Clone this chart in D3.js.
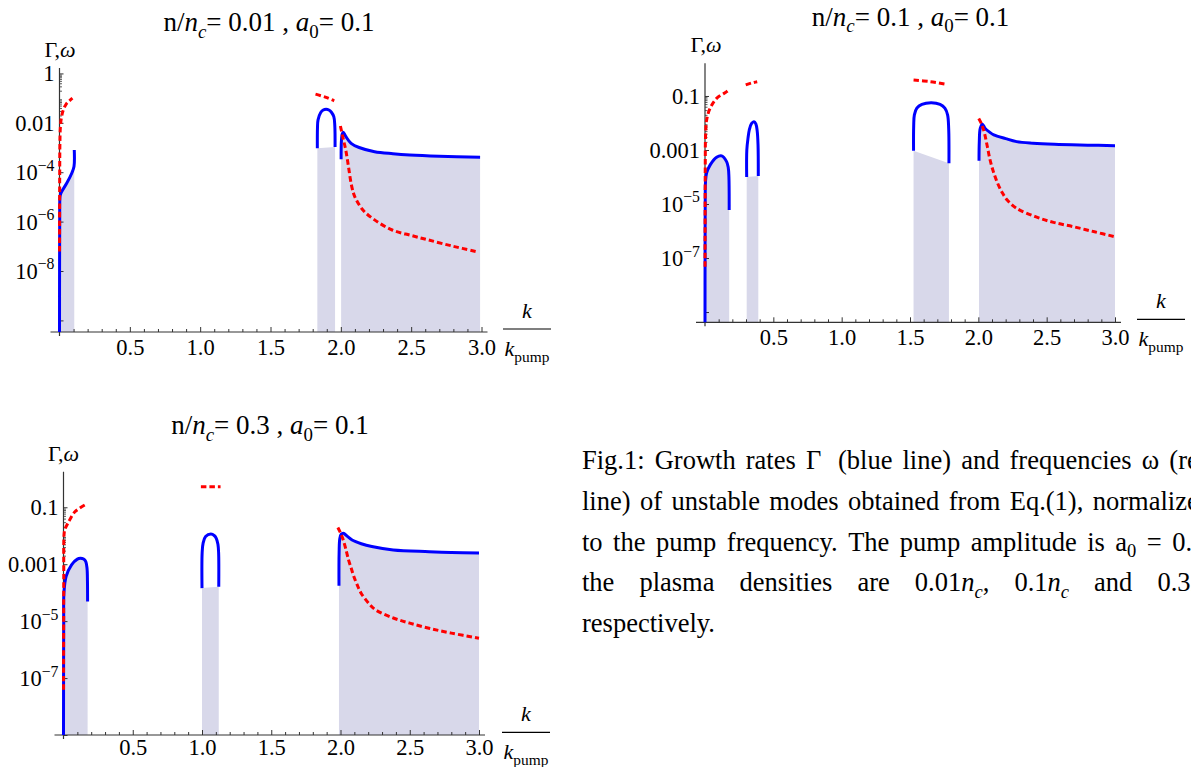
<!DOCTYPE html>
<html><head><meta charset="utf-8">
<script src="https://cdn.jsdelivr.net/npm/d3@7"></script>
<style>
body{margin:0;background:#fff;}
svg{display:block;font-family:"Liberation Serif","Times New Roman",serif;}
</style></head><body>
<script>
// ---------------- DATA ----------------
const kMajorTicks = [0.5, 1.0, 1.5, 2.0, 2.5, 3.0];
const kMajorLabels = ["0.5", "1.0", "1.5", "2.0", "2.5", "3.0"];
const kMinorTicks = d3.range(1, 30).map(i => i / 10).filter(v => Math.abs(v * 2 - Math.round(v * 2)) > 1e-9);

const densities = ["0.01", "0.1", "0.3"];
const pumpAmplitude = "0.1";

// y ticks (values) and labels per panel
const p1YTicks = [1, 1e-2, 1e-4, 1e-6, 1e-8, 1e-10];
const p1YLabels = ["1", "0.01", "10^{−4}", "10^{−6}", "10^{−8}", ""];
const p23YTicks = [1e-1, 1e-3, 1e-5, 1e-7, 1e-9];
const p23YLabels = ["0.1", "0.001", "10^{−5}", "10^{−7}", ""];

// Curves: [k/k_pump, log10(value)]
// Panel 1: n/nc = 0.01
const p1Gamma = [
  [[0,-10.47],[0.0005,-8],[0.0015,-6],[0.0035,-5.0],[0.008,-4.88],[0.016,-4.78],[0.051,-4.45],[0.087,-4.04],[0.103,-3.77],[0.105,-3.1]],
  [[1.833,-3.03],[1.834,-2.2],[1.838,-1.88],[1.857,-1.58],[1.875,-1.48],[1.895,-1.45],[1.915,-1.48],[1.933,-1.57],[1.95,-1.75],[1.957,-2.1],[1.959,-2.98]],
  [[2.002,-3.47],[2.004,-2.75],[2.01,-2.45],[2.017,-2.38],[2.035,-2.55],[2.073,-2.83],[2.13,-3.0],[2.24,-3.17],[2.37,-3.25],[2.49,-3.30],[2.7,-3.35],[2.99,-3.39]]
];
const p1Omega = [
  [[0.0003,-7.21],[0.0008,-5.5],[0.0015,-4.0],[0.003,-2.8],[0.006,-2.2],[0.012,-1.85],[0.027,-1.48],[0.051,-1.21],[0.07,-1.11],[0.092,-1.0]],
  [[1.82,-0.84],[1.89,-0.96],[1.953,-1.11]],
  [[1.997,-2.13],[2.015,-2.6],[2.035,-3.1],[2.055,-3.8],[2.073,-4.45],[2.09,-4.85],[2.11,-5.12],[2.16,-5.55],[2.24,-5.93],[2.365,-6.34],[2.5,-6.56],[2.62,-6.74],[2.8,-7.0],[2.96,-7.21]]
];
const p1FillTop = [p1Gamma[0], [[1.833,-3.03],[1.959,-2.98]], p1Gamma[2]];

// Panel 2: n/nc = 0.1
const p2Gamma = [
  [[0,-9.38],[0.0005,-7],[0.0015,-5],[0.004,-4.15],[0.012,-3.85],[0.037,-3.56],[0.085,-3.27],[0.122,-3.22],[0.158,-3.43],[0.17,-3.65],[0.175,-4.0],[0.177,-5.22]],
  [[0.305,-4.0],[0.306,-3.0],[0.315,-2.55],[0.324,-2.26],[0.34,-2.02],[0.358,-1.95],[0.372,-2.03],[0.382,-2.3],[0.388,-2.8],[0.39,-3.96]],
  [[1.526,-3.03],[1.527,-2.1],[1.532,-1.7],[1.55,-1.45],[1.587,-1.31],[1.656,-1.25],[1.72,-1.31],[1.755,-1.45],[1.775,-1.7],[1.783,-2.2],[1.785,-3.49]],
  [[2.005,-3.40],[2.007,-2.7],[2.014,-2.2],[2.03,-2.05],[2.05,-2.2],[2.08,-2.33],[2.113,-2.44],[2.2,-2.58],[2.28,-2.69],[2.4,-2.75],[2.557,-2.79],[2.8,-2.82],[3.0,-2.84]]
];
const p2Omega = [
  [[0.0003,-7.32],[0.001,-5.0],[0.002,-3.5],[0.004,-2.5],[0.012,-1.89],[0.037,-1.46],[0.085,-1.09],[0.159,-0.84],[0.179,-0.75]],
  [[0.298,-0.59],[0.34,-0.52],[0.382,-0.47]],
  [[1.526,-0.41],[1.65,-0.47],[1.77,-0.57]],
  [[2.003,-1.83],[2.025,-2.05],[2.045,-2.38],[2.065,-2.85],[2.086,-3.37],[2.11,-3.8],[2.141,-4.23],[2.175,-4.58],[2.211,-4.85],[2.28,-5.16],[2.418,-5.47],[2.55,-5.68],[2.696,-5.84],[2.85,-6.03],[2.999,-6.21]]
];
const p2FillTop = [p2Gamma[0], [[0.305,-4.0],[0.39,-3.96]], [[1.526,-3.03],[1.785,-3.49]], p2Gamma[3]];

// Panel 3: n/nc = 0.3
const p3Gamma = [
  [[0,-9.0],[0.0005,-7],[0.0015,-5],[0.003,-4.02],[0.019,-3.43],[0.058,-3.02],[0.1,-2.82],[0.122,-2.79],[0.145,-2.82],[0.161,-2.91],[0.17,-3.15],[0.173,-3.6],[0.174,-4.31]],
  [[1.0,-3.84],[1.001,-2.6],[1.008,-2.26],[1.026,-2.03],[1.064,-1.94],[1.09,-2.0],[1.103,-2.09],[1.115,-2.3],[1.12,-2.6],[1.121,-3.79]],
  [[1.989,-3.76],[1.99,-2.6],[1.995,-2.1],[2.005,-1.95],[2.02,-1.91],[2.05,-2.02],[2.084,-2.15],[2.15,-2.28],[2.226,-2.38],[2.381,-2.50],[2.639,-2.56],[2.8,-2.59],[3.0,-2.61]]
];
const p3Omega = [
  [[0.0003,-7.41],[0.001,-5.0],[0.002,-3.5],[0.005,-1.91],[0.012,-1.75],[0.032,-1.56],[0.084,-1.15],[0.169,-0.88]],
  [[0.992,-0.28],[1.134,-0.28]],
  [[1.981,-1.71],[2.0,-1.9],[2.02,-2.15],[2.04,-2.5],[2.058,-2.85],[2.078,-3.15],[2.097,-3.44],[2.12,-3.72],[2.149,-4.02],[2.2,-4.35],[2.252,-4.60],[2.381,-4.89],[2.5,-5.07],[2.639,-5.25],[2.8,-5.42],[3.0,-5.60]]
];
const p3FillTop = [p3Gamma[0], [[1.0,-3.84],[1.121,-3.79]], p3Gamma[2]];

const captionLines = [
  "Fig.1: Growth rates Γ\u00A0 (blue line) and frequencies ω (red",
  "line) of unstable modes obtained from Eq.(1), normalized",
  "to the pump frequency. The pump amplitude is a_0 = 0.1,",
  "the plasma densities are 0.01*n*_*c*, 0.1*n*_*c* and 0.3*n*_*c*",
  "respectively."
];

// ---------------- LAYOUT ----------------
const panels = [
  {gamma:p1Gamma, omega:p1Omega, fill:p1FillTop, yTicks:p1YTicks, yLabels:p1YLabels, density:densities[0],
   x0:59.5, x1:481.5, yB:332, yT:68, eMin:-10.47, eMax:0.22, minorDec:[-1,-2], lab:355,
   tx:269, ty:31, gx:60, gy:57, fx:527, fl:329},
  {gamma:p2Gamma, omega:p2Omega, fill:p2FillTop, yTicks:p23YTicks, yLabels:p23YLabels, density:densities[1],
   x0:705, x1:1115, yB:322.3, yT:63.3, eMin:-9.38, eMax:0.21, minorDec:[-2,-3], lab:345,
   tx:910.6, ty:25.5, gx:706, gy:52, fx:1161, fl:319.3},
  {gamma:p3Gamma, omega:p3Omega, fill:p3FillTop, yTicks:p23YTicks, yLabels:p23YLabels, density:densities[2],
   x0:63.5, x1:479, yB:735, yT:471.7, eMin:-9.0, eMax:0.25, minorDec:[-2,-3], lab:755,
   tx:270, ty:434, gx:63.5, gy:460.5, fx:526, fl:732.3}
];

const W = 1191, H = 767;
const BLUE = "#0000ff", RED = "#ff0000", FILL = "#d8d8ea", AXIS = "#333";
const TICK_FS = 22.5;
const svg = d3.select("body").append("svg").attr("width", W).attr("height", H);

// rich text: *..* italic toggle, _x / _{..} subscript, ^x / ^{..} superscript
function rich(sel, str, fs) {
  const chunks = [];
  let it = false, mode = 0, single = false;
  for (let i = 0; i < str.length; i++) {
    const c = str[i];
    if (c === "*") { it = !it; continue; }
    if (c === "_" || c === "^") {
      mode = c === "_" ? 1 : 2;
      if (str[i + 1] === "{") { single = false; i++; } else single = true;
      continue;
    }
    if (c === "}" && mode && !single) { mode = 0; continue; }
    const last = chunks[chunks.length - 1];
    if (last && last.it === it && last.mode === mode) last.t += c;
    else chunks.push({t: c, it, mode});
    if (single && mode) { mode = 0; single = false; }
  }
  let cur = 0;
  chunks.forEach(ch => {
    const ts = sel.append("tspan").text(ch.t);
    if (ch.it) ts.attr("font-style", "italic");
    const target = ch.mode === 1 ? fs * 0.25 : ch.mode === 2 ? -fs * 0.42 : 0;
    if (target !== cur) { ts.attr("dy", target - cur); cur = target; }
    if (ch.mode) ts.attr("font-size", fs * 0.7);
  });
}

panels.forEach(P => {
  const g = svg.append("g");
  const x = d3.scaleLinear().domain([0, 3]).range([P.x0, P.x1]);
  const y = d3.scaleLog().domain([10 ** P.eMin, 10 ** P.eMax]).range([P.yB, P.yT]);
  const curve = d3.curveCatmullRom.alpha(0.5);
  const line = d3.line().x(d => x(d[0])).y(d => y(10 ** d[1])).curve(curve);
  const area = d3.area().x(d => x(d[0])).y0(P.yB).y1(d => y(10 ** d[1])).curve(curve);

  // fills
  g.append("g").selectAll("path").data(P.fill).join("path")
    .attr("d", area).attr("fill", FILL).attr("stroke", "none");

  // x axis
  const xMinor = g.append("g").attr("transform", `translate(0,${P.yB})`)
    .call(d3.axisBottom(x).tickValues(kMinorTicks).tickSize(-3).tickSizeOuter(0).tickFormat(""));
  const xMajor = g.append("g").attr("transform", `translate(0,${P.yB})`)
    .call(d3.axisBottom(x).tickValues(kMajorTicks).tickSize(-5).tickSizeOuter(0).tickFormat((d, i) => kMajorLabels[i]));
  [xMinor, xMajor].forEach(a => {
    a.select(".domain").remove();
    a.attr("font-family", null).attr("font-size", null);
    a.selectAll(".tick line").attr("stroke", AXIS);
  });
  xMajor.selectAll(".tick text").attr("y", P.lab - P.yB).attr("dy", null)
    .attr("font-size", TICK_FS).attr("fill", "#000");
  g.append("line").attr("x1", P.x0 - 9).attr("x2", P.x1 + 6).attr("y1", P.yB).attr("y2", P.yB)
    .attr("stroke", AXIS).attr("stroke-width", 1.2);

  // y axis
  const yMinorVals = [];
  P.minorDec.forEach(e => d3.range(2, 10).forEach(m => yMinorVals.push(m * 10 ** e)));
  const yMinor = g.append("g").attr("transform", `translate(${P.x0},0)`)
    .call(d3.axisLeft(y).tickValues(yMinorVals).tickSize(-2.5).tickSizeOuter(0).tickFormat(""));
  const yMajor = g.append("g").attr("transform", `translate(${P.x0},0)`)
    .call(d3.axisLeft(y).tickValues(P.yTicks).tickSize(-4).tickSizeOuter(0).tickPadding(5).tickFormat(""));
  [yMinor, yMajor].forEach(a => {
    a.select(".domain").remove();
    a.attr("font-family", null).attr("font-size", null);
    a.selectAll(".tick line").attr("stroke", AXIS);
  });
  yMinor.selectAll(".tick line").attr("stroke-width", 0.8);
  yMajor.selectAll(".tick text").each(function (d, i) {
    const t = d3.select(this).attr("font-size", TICK_FS).attr("fill", "#000").attr("dy", "0.33em");
    rich(t, P.yLabels[i], TICK_FS);
  });
  g.append("line").attr("x1", P.x0).attr("x2", P.x0).attr("y1", P.yB + 4).attr("y2", P.yT)
    .attr("stroke", AXIS).attr("stroke-width", 1.2);

  // curves
  g.append("g").selectAll("path").data(P.gamma).join("path")
    .attr("d", line).attr("fill", "none").attr("stroke", BLUE).attr("stroke-width", 3);
  g.append("g").selectAll("path").data(P.omega).join("path")
    .attr("d", line).attr("fill", "none").attr("stroke", RED).attr("stroke-width", 3)
    .attr("stroke-dasharray", "5.5,3");

  // title
  const tt = g.append("text").attr("x", P.tx).attr("y", P.ty).attr("text-anchor", "middle").attr("font-size", 27);
  rich(tt, `n/*n*_*c*= ${P.density} , *a*_0= ${pumpAmplitude}`, 27);
  // y label
  const gl = g.append("text").attr("x", P.gx).attr("y", P.gy).attr("text-anchor", "middle").attr("font-size", 22);
  rich(gl, "Γ,*ω*", 22);
  // x label fraction
  const kt = g.append("text").attr("x", P.fx).attr("y", P.fl - 11).attr("text-anchor", "middle").attr("font-size", 22);
  rich(kt, "*k*", 22);
  g.append("line").attr("x1", P.fx - 24).attr("x2", P.fx + 24).attr("y1", P.fl).attr("y2", P.fl)
    .attr("stroke", "#000").attr("stroke-width", 1.2);
  const kb = g.append("text").attr("x", P.fx).attr("y", P.fl + 27).attr("text-anchor", "middle").attr("font-size", 22);
  rich(kb, "*k*_{pump}", 22);
});

// caption (justified, runs past the right edge like the reference)
const capX = 582, capY0 = 469, capDY = 40.75, capW = 630, capFS = 26.5;
const cg = svg.append("g");
captionLines.forEach((ln, i) => {
  const yb = capY0 + i * capDY;
  const words = ln.split(" ");
  const els = words.map(w => {
    const t = cg.append("text").attr("y", yb).attr("font-size", capFS).attr("fill", "#000");
    rich(t, w, capFS);
    return t;
  });
  const widths = els.map(t => t.node().getComputedTextLength());
  const justify = i < captionLines.length - 1;
  const gap = justify && words.length > 1 ? (capW - d3.sum(widths)) / (words.length - 1) : capFS * 0.25;
  let xx = capX;
  els.forEach((t, j) => { t.attr("x", xx); xx += widths[j] + gap; });
});
</script>
</body></html>
